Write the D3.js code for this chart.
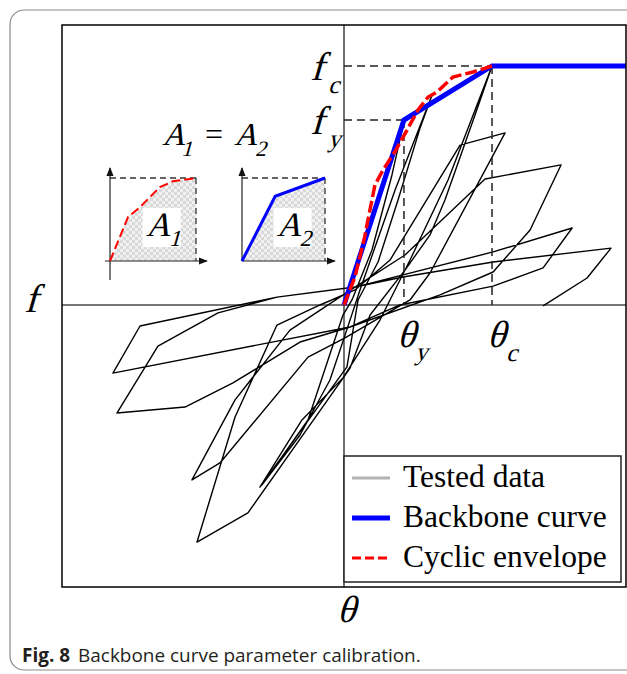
<!DOCTYPE html>
<html><head><meta charset="utf-8">
<script src="https://cdn.jsdelivr.net/npm/d3@7"></script>
<style>body{margin:0;background:#fff}svg{display:block}</style>
</head><body>
<svg id="c" width="627" height="674"></svg>
<script>
// ---- data (theta normalised by theta_c, f normalised by f_c) ----
const thetaY = 0.405, fY = 0.774, thetaC = 1, fC = 1;
const backbone = [[0,0],[0.405,0.774],[1,1],[1.905,1]];
const envelope = [[0,0],[0.074,0.117],[0.135,0.272],[0.209,0.502],[0.264,0.565],[0.351,0.649],
  [0.426,0.732],[0.5,0.816],[0.568,0.870],[0.628,0.891],[0.736,0.954],[0.872,0.975],[1,1]];
const tested = [[0,0],[0.203,0.377],[0.405,0.766],[0.324,0.544],[0.189,0.230],[0.054,0.021],
  [-0.007,-0.042],[-0.243,-0.481],[-0.554,-0.753],[-0.297,-0.544],[-0.095,-0.314],[0.007,-0.126],
  [0.108,0.063],[0.345,0.481],[0.595,0.879],[0.514,0.741],[0.365,0.439],[0.230,0.180],[0.095,0.021],
  [0.020,-0.259],[-0.568,-0.762],[-0.284,-0.481],[-0.007,-0.305],[0.243,-0.063],[0.446,0.188],
  [0.703,0.523],[1,1],[0.885,0.795],[0.682,0.439],[0.581,0.293],[0.412,0.146],[0.176,-0.042],
  [0.041,-0.264],[-0.649,-0.870],[-0.993,-0.992],[-0.736,-0.469],[-0.453,-0.084],[-0.162,0],
  [0.074,0.063],[0.311,0.188],[0.784,0.669],[1.088,0.720],[0.581,0.134],[0.446,0.021],[0.007,-0.138],
  [-0.243,-0.218],[-0.838,-0.661],[-1.027,-0.732],[-0.736,-0.397],[-0.365,-0.105],[0.074,0.075],
  [0.412,0.209],[0.953,0.527],[1.466,0.586],[1.257,0.314],[1.007,0.138],[0.649,0.042],[0.041,-0.092],
  [-0.297,-0.155],[-0.750,-0.326],[-1.074,-0.427],[-1.534,-0.452],[-1.257,-0.172],[-0.851,-0.033],
  [-0.453,0.033],[0.074,0.075],[1.007,0.222],[1.541,0.322],[1.345,0.155],[1.007,0.079],[0.378,0],
  [0.041,-0.092],[-1.561,-0.285],[-1.378,-0.088],[-0.453,0.033],[0.074,0.075],[0.399,0.117],
  [1.007,0.180],[1.804,0.238],[1.642,0.113],[1.345,-0.004]];
const insetEnvelope = [[0,0],[0.21,0.53],[0.35,0.65],[0.58,0.89],[0.73,0.96],[1,1]];
const insetBackbone = [[0,0],[0.40,0.78],[1,1]];
const legendLabels = ["Tested data","Backbone curve","Cyclic envelope"];
const captionBold = "Fig. 8", captionText = "Backbone curve parameter calibration.";

const svg = d3.select("#c");
const serif = "'Liberation Serif','Times New Roman',serif";
const defs = svg.append("defs");
const pat = defs.append("pattern").attr("id","hatch").attr("width",6).attr("height",6).attr("patternUnits","userSpaceOnUse");
pat.append("rect").attr("width",6).attr("height",6).attr("fill","#f1f1f1");
pat.append("rect").attr("width",3).attr("height",3).attr("fill","#d9d9d9");
pat.append("rect").attr("x",3).attr("y",3).attr("width",3).attr("height",3).attr("fill","#d9d9d9");
defs.append("marker").attr("id","arr").attr("viewBox","0 0 10 10").attr("refX",9).attr("refY",5)
  .attr("markerWidth",9).attr("markerHeight",9).attr("markerUnits","userSpaceOnUse").attr("orient","auto")
  .append("path").attr("d","M0,1L10,5L0,9Z").attr("fill","#111");
defs.append("clipPath").attr("id","plotclip").append("rect").attr("x",62).attr("y",25).attr("width",564).attr("height",562);

// outer card
svg.append("rect").attr("x",10).attr("y",10).attr("width",660).attr("height",660).attr("rx",14)
  .attr("fill","none").attr("stroke","#8a8a8a").attr("stroke-width",1.2);

const x = d3.scaleLinear().domain([-1.905,1.905]).range([62,626]);
const y = d3.scaleLinear().domain([-1.18,1.1715]).range([587,25]);
const line = d3.line().x(d=>x(d[0])).y(d=>y(d[1]));

const g = svg.append("g").attr("clip-path","url(#plotclip)");
// axes through origin
g.append("line").attr("x1",x.range()[0]).attr("x2",x.range()[1]).attr("y1",y(0)).attr("y2",y(0))
  .attr("stroke","#777").attr("stroke-width",1.8);
g.append("line").attr("x1",x(0)).attr("x2",x(0)).attr("y1",y.range()[0]).attr("y2",y.range()[1])
  .attr("stroke","#111").attr("stroke-width",1.2);
// tested loops
g.append("path").attr("d",line(tested)).attr("fill","none").attr("stroke","#000")
  .attr("stroke-width",1.4).attr("stroke-linejoin","round");
// guide dashes
const dash = (x1,y1,x2,y2)=>g.append("line").attr("x1",x1).attr("y1",y1).attr("x2",x2).attr("y2",y2)
  .attr("stroke","#222").attr("stroke-width",1.5).attr("stroke-dasharray","8,5");
dash(x(0),y(fC),x(thetaC),y(fC));
dash(x(0),y(fY),x(thetaY),y(fY));
dash(x(thetaY),y(fY),x(thetaY),y(0));
dash(x(thetaC),y(fC),x(thetaC),y(0));
// backbone & envelope
g.append("path").attr("d",line(backbone)).attr("fill","none").attr("stroke","#0000ff").attr("stroke-width",5);
g.append("path").attr("d",line(envelope)).attr("fill","none").attr("stroke","#ff0000").attr("stroke-width",3.5)
  .attr("stroke-dasharray","12,4");

// plot frame
svg.append("rect").attr("x",62).attr("y",25).attr("width",564).attr("height",562)
  .attr("fill","none").attr("stroke","#000").attr("stroke-width",1.5);

// slanted serif text (italic look)
function itxt(px,py,s,size,anchor){
  svg.append("text").attr("transform",`translate(${px},${py}) skewX(-16)`)
    .attr("font-family",serif).attr("font-size",size).attr("fill","#000")
    .attr("text-anchor",anchor||"start").text(s);
}
function lab(px,py,main,sub,size,subSize,sdx,sdy){
  itxt(px,py,main,size);
  if(sub) itxt(px+sdx,py+sdy,sub,subSize);
}
lab(x(0)-34,y(fC)+14,"f","c",40,25,18,13);
lab(x(0)-34,y(fY)+14,"f","y",40,25,18,13);
lab(x(thetaY)-7,y(0)+42,"θ","y",38,25,18,13);
lab(x(thetaC)-5,y(0)+42,"θ","c",38,25,19,14);
itxt(x(0)+2,622,"θ",38,"middle");
itxt(24,312,"f",40);

// A1 = A2 title
lab(162,145,"A","1",32,22,19,11);
svg.append("text").attr("x",205).attr("y",145).attr("font-family",serif).attr("font-size",32).text("=");
lab(234,145,"A","2",32,22,21,11);

// insets
const ly = d3.scaleLinear().domain([0,1]).range([261,178]);
function inset(x0,x1,data,color,dashed,axisLeftBottom,xEnd,yLow,subLabel){
  const ix = d3.scaleLinear().domain([0,1]).range([x0,x1]);
  const il = d3.line().x(d=>ix(d[0])).y(d=>ly(d[1]));
  const area = d3.area().x(d=>ix(d[0])).y0(ly(0)).y1(d=>ly(d[1]));
  svg.append("path").attr("d",area(data)).attr("fill","url(#hatch)");
  svg.append("line").attr("x1",ix(0)).attr("x2",ix(1)).attr("y1",ly(1)).attr("y2",ly(1))
    .attr("stroke","#333").attr("stroke-width",1.3).attr("stroke-dasharray","6,4");
  svg.append("line").attr("x1",ix(1)).attr("x2",ix(1)).attr("y1",ly(1)).attr("y2",ly(0))
    .attr("stroke","#333").attr("stroke-width",1.3).attr("stroke-dasharray","6,4");
  svg.append("line").attr("x1",ix(0)).attr("x2",ix(0)).attr("y1",yLow).attr("y2",168)
    .attr("stroke","#222").attr("stroke-width",1.2).attr("marker-end","url(#arr)");
  svg.append("line").attr("x1",axisLeftBottom).attr("x2",xEnd).attr("y1",ly(0)).attr("y2",ly(0))
    .attr("stroke","#222").attr("stroke-width",1.2).attr("marker-end","url(#arr)");
  const p = svg.append("path").attr("d",il(data)).attr("fill","none").attr("stroke",color)
    .attr("stroke-width",dashed?2:3);
  if(dashed) p.attr("stroke-dasharray","9,4");
  const bx = ix(0.38), bw = 38;
  svg.append("rect").attr("x",bx).attr("y",208).attr("width",bw).attr("height",39).attr("fill","#fff");
  lab(bx+3,236,"A",subLabel,34,23,23,10);
}
inset(110,196,insetEnvelope,"#ff0000",true,105,207,280,"1");
inset(242,325,insetBackbone,"#0000ff",false,242,335,261,"2");

// legend
const lg = svg.append("g");
lg.append("rect").attr("x",344).attr("y",456).attr("width",277).attr("height",126)
  .attr("fill","#fff").attr("stroke","#222").attr("stroke-width",1.5);
const sw = [{c:"#b3b3b3",w:3,d:null},{c:"#0000ff",w:5,d:null},{c:"#ff0000",w:3,d:"9,4"}];
legendLabels.forEach((t,i)=>{
  const yy = 478 + i*40;
  lg.append("line").attr("x1",352).attr("x2",390).attr("y1",yy).attr("y2",yy)
    .attr("stroke",sw[i].c).attr("stroke-width",sw[i].w).attr("stroke-dasharray",sw[i].d);
  lg.append("text").attr("x",403).attr("y",yy+9).attr("font-family",serif).attr("font-size",31.5).text(t);
});

// caption (condensed to mimic the journal's narrow sans)
const cap = svg.append("text").attr("x",0).attr("y",0).attr("font-family","'Open Sans',sans-serif")
  .attr("font-size",19).attr("fill","#231f20");
cap.append("tspan").attr("font-weight","bold").text(captionBold);
cap.append("tspan").attr("dx",8).text(captionText);
const w = cap.node().getComputedTextLength();
cap.attr("transform",`translate(22,662) scale(${391/w},1)`);
</script>
</body></html>
